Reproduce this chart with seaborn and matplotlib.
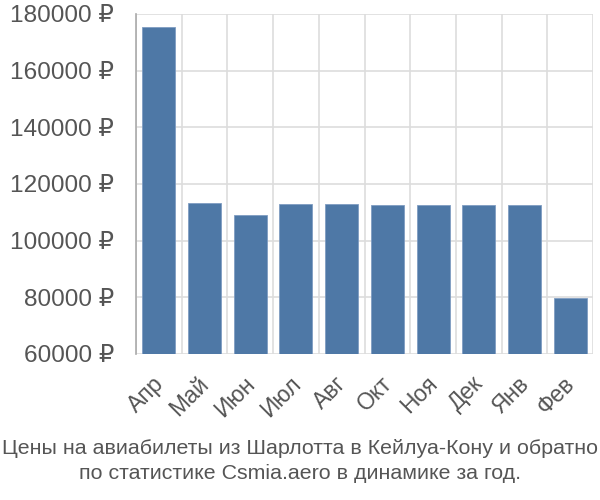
import matplotlib
matplotlib.use("Agg")
import matplotlib.pyplot as plt
import matplotlib.transforms as mtransforms
import seaborn as sns
import pandas as pd
import numpy as np

months = ["Апр", "Май", "Июн", "Июл", "Авг", "Окт", "Ноя", "Дек", "Янв", "Фев"]
prices = [175400, 113200, 108900, 112800, 112800, 112500, 112500, 112500, 112500, 79800]
yticks = [60000, 80000, 100000, 120000, 140000, 160000, 180000]
caption = "Цены на авиабилеты из Шарлотта в Кейлуа-Кону и обратно\nпо статистике Csmia.aero в динамике за год."

sns.set_style("white")
plt.rcParams["font.family"] = ["Liberation Sans", "DejaVu Sans"]

df = pd.DataFrame({"month": months, "price": prices})

fig = plt.figure(figsize=(6, 5), dpi=100)
ax = fig.add_axes([136/600, 1-354/500, (593-136)/600, (354-14)/500])

sns.barplot(data=df, x="month", y="price", color="#4e78a6", saturation=1,
            width=0.72, ax=ax, zorder=3, edgecolor="#7f9cc2", linewidth=0.6)

ax.set_ylim(60000, 180000)
ax.set_xlim(-0.5, len(months) - 0.5)
ax.set_yticks(yticks)
ax.set_yticklabels([f"{v} ₽" for v in yticks])
ax.set_xlabel("")
ax.set_ylabel("")

ax.set_xticks(np.arange(len(months)))
ax.set_xticklabels(months, rotation=45, ha="right", rotation_mode="anchor")
ax.set_xticks(np.arange(-0.5, len(months)), minor=True)
ax.tick_params(axis="x", which="major", length=0, pad=13, labelsize=16.5, labelcolor="#555555")
ax.tick_params(axis="x", which="minor", length=13.5, color="#dddddd", width=1.2)
ax.tick_params(axis="y", which="major", length=14.4, color="#dddddd", width=1.2,
               labelsize=17.6, labelcolor="#555555", pad=1.5)

offset = mtransforms.ScaledTranslation(-7/100, 0, fig.dpi_scale_trans)
for lab in ax.get_xticklabels():
    lab.set_transform(lab.get_transform() + offset)

ax.grid(True, which="minor", axis="x", color="#dddddd", linewidth=1.2, zorder=0)
ax.grid(True, which="major", axis="y", color="#dddddd", linewidth=1.2, zorder=0)
ax.grid(False, which="major", axis="x")

for s in ["top", "right", "bottom"]:
    ax.spines[s].set_visible(False)
ax.spines["left"].set_color("#aaaaaa")
ax.spines["left"].set_linewidth(1.2)
ax.spines["left"].set_zorder(4)

fig.text(0.5, 1 - 461/500, caption, ha="center", va="center", fontsize=15.4,
         color="#555555", linespacing=1.35)

fig.savefig("out.png", dpi=100)
